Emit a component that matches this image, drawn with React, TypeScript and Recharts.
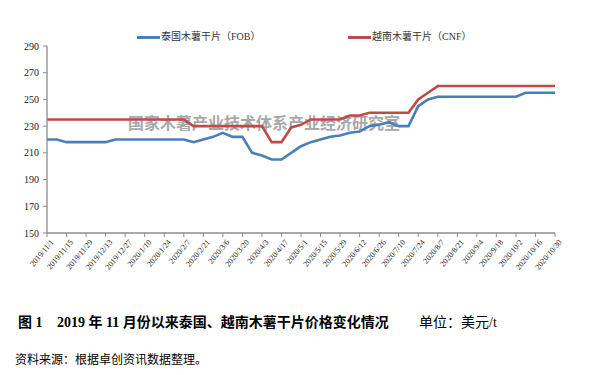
import React from "react";
import { LineChart, Line, XAxis, YAxis, Legend } from "recharts";

const dates = [
  "2019/11/1", "2019/11/8", "2019/11/15", "2019/11/22", "2019/11/29", "2019/12/6", "2019/12/13", "2019/12/20", "2019/12/27",
  "2020/1/3", "2020/1/10", "2020/1/17", "2020/1/24", "2020/1/31", "2020/2/7", "2020/2/14", "2020/2/21", "2020/2/28",
  "2020/3/6", "2020/3/13", "2020/3/20", "2020/3/27", "2020/4/3", "2020/4/10", "2020/4/17", "2020/4/24", "2020/5/1",
  "2020/5/8", "2020/5/15", "2020/5/22", "2020/5/29", "2020/6/5", "2020/6/12", "2020/6/19", "2020/6/26", "2020/7/3",
  "2020/7/10", "2020/7/17", "2020/7/24", "2020/7/31", "2020/8/7", "2020/8/14", "2020/8/21", "2020/8/28", "2020/9/4",
  "2020/9/11", "2020/9/18", "2020/9/25", "2020/10/2", "2020/10/9", "2020/10/16", "2020/10/23", "2020/10/30",
];

const thaiFOB = [
  220, 220, 218, 218, 218, 218, 218, 220, 220,
  220, 220, 220, 220, 220, 220, 218, 220, 222,
  225, 222, 222, 210, 208, 205, 205, 210, 215,
  218, 220, 222, 223, 225, 226, 230, 231, 233,
  230, 230, 245, 250, 252, 252, 252, 252, 252,
  252, 252, 252, 252, 255, 255, 255, 255,
];

const vietnamCNF = [
  235, 235, 235, 235, 235, 235, 235, 235, 235,
  235, 235, 235, 235, 235, 235, 230, 230, 230,
  230, 230, 230, 230, 230, 218, 218, 229, 231,
  235, 235, 235, 235, 238, 238, 240, 240, 240,
  240, 240, 250, 255, 260, 260, 260, 260, 260,
  260, 260, 260, 260, 260, 260, 260, 260,
];

const yTicks = [150, 170, 190, 210, 230, 250, 270, 290];

const seriesNames = ["泰国木薯干片（FOB）", "越南木薯干片（CNF）"];
const watermark = "国家木薯产业技术体系产业经济研究室";
const captionFig = "图 1";
const captionTitle = "2019 年 11 月份以来泰国、越南木薯干片价格变化情况";
const captionUnit = "单位：美元/t";
const sourceNote = "资料来源：根据卓创资讯数据整理。";

const data = dates.map((d, i) => ({ date: d, thai: thaiFOB[i], vn: vietnamCNF[i] }));

const BLUE = "#4A7EBB";
const RED = "#BE4B48";
const AXIS = "#8C8C8C";
const SERIF = "'Liberation Serif', 'Noto Sans CJK SC', serif";
const CJK = "'Liberation Serif', 'Noto Sans CJK SC', sans-serif";

const XTick = (props: any) => {
  const { x, y, payload } = props;
  return (
    <g transform={`translate(${x},${y})`}>
      <text
        x={2}
        y={2}
        textAnchor="end"
        dominantBaseline="hanging"
        transform="rotate(-50)"
        fontSize={8}
        fontFamily={SERIF}
        fill="#222"
      >
        {payload.value}
      </text>
    </g>
  );
};

const YTick = (props: any) => {
  const { x, y, payload } = props;
  return (
    <text x={x - 2} y={y} dy={3.5} textAnchor="end" fontSize={10} fontFamily={SERIF} fill="#222">
      {payload.value}
    </text>
  );
};

const LegendContent = () => (
  <div style={{ position: "relative", width: 594, height: 16, fontFamily: CJK, fontSize: 10, color: "#333" }}>
    <div style={{ position: "absolute", left: 137, top: 7, width: 23, height: 3, background: BLUE }} />
    <div style={{ position: "absolute", left: 161, top: 1, whiteSpace: "nowrap", lineHeight: "14px" }}>{seriesNames[0]}</div>
    <div style={{ position: "absolute", left: 348, top: 7, width: 23, height: 3, background: RED }} />
    <div style={{ position: "absolute", left: 372, top: 1, whiteSpace: "nowrap", lineHeight: "14px" }}>{seriesNames[1]}</div>
  </div>
);

export default function App() {
  return (
    <div style={{ position: "absolute", left: 0, top: 0, width: 594, height: 375, background: "#fff", overflow: "hidden" }}>
      <div
        style={{
          position: "absolute",
          left: 128,
          top: 112,
          fontSize: 16,
          fontWeight: "bold",
          color: "#A8A8A8",
          fontFamily: "'Noto Sans CJK SC', sans-serif",
          whiteSpace: "nowrap",
          lineHeight: "20px",
          letterSpacing: 0,
        }}
      >
        {watermark}
      </div>
      <div style={{ position: "absolute", left: 0, top: 0 }}>
        <LineChart width={594} height={300} data={data} margin={{ top: 30, right: 39, bottom: 7, left: 0 }}>
          <XAxis
            dataKey="date"
            interval={1}
            height={60}
            tick={<XTick />}
            tickLine={{ stroke: AXIS }}
            axisLine={{ stroke: AXIS, strokeWidth: 1.3 }}
            tickSize={4}
          />
          <YAxis
            domain={[150, 290]}
            ticks={yTicks}
            width={47}
            tick={<YTick />}
            tickLine={{ stroke: AXIS }}
            axisLine={{ stroke: AXIS, strokeWidth: 1.3 }}
            tickSize={4}
            interval={0}
          />
          <Legend verticalAlign="top" wrapperStyle={{ top: 29, left: 0, width: 594 }} content={<LegendContent />} />
          <Line
            type="linear"
            dataKey="thai"
            name={seriesNames[0]}
            stroke={BLUE}
            strokeWidth={2.6}
            dot={false}
            isAnimationActive={false}
          />
          <Line
            type="linear"
            dataKey="vn"
            name={seriesNames[1]}
            stroke={RED}
            strokeWidth={2.6}
            dot={false}
            isAnimationActive={false}
          />
        </LineChart>
      </div>
      <div
        style={{
          position: "absolute",
          left: 18,
          top: 314,
          fontSize: 14,
          fontWeight: "bold",
          fontFamily: CJK,
          whiteSpace: "nowrap",
          lineHeight: "18px",
          color: "#000",
        }}
      >
        {captionFig}
      </div>
      <div
        style={{
          position: "absolute",
          left: 57,
          top: 314,
          fontSize: 14,
          fontWeight: "bold",
          fontFamily: CJK,
          whiteSpace: "nowrap",
          lineHeight: "18px",
          color: "#000",
        }}
      >
        {captionTitle}
      </div>
      <div
        style={{
          position: "absolute",
          left: 419,
          top: 314,
          fontSize: 14,
          fontFamily: CJK,
          whiteSpace: "nowrap",
          lineHeight: "18px",
          color: "#000",
        }}
      >
        {captionUnit}
      </div>
      <div
        style={{
          position: "absolute",
          left: 15,
          top: 352,
          fontSize: 12,
          fontFamily: CJK,
          whiteSpace: "nowrap",
          lineHeight: "16px",
          color: "#000",
        }}
      >
        {sourceNote}
      </div>
    </div>
  );
}
